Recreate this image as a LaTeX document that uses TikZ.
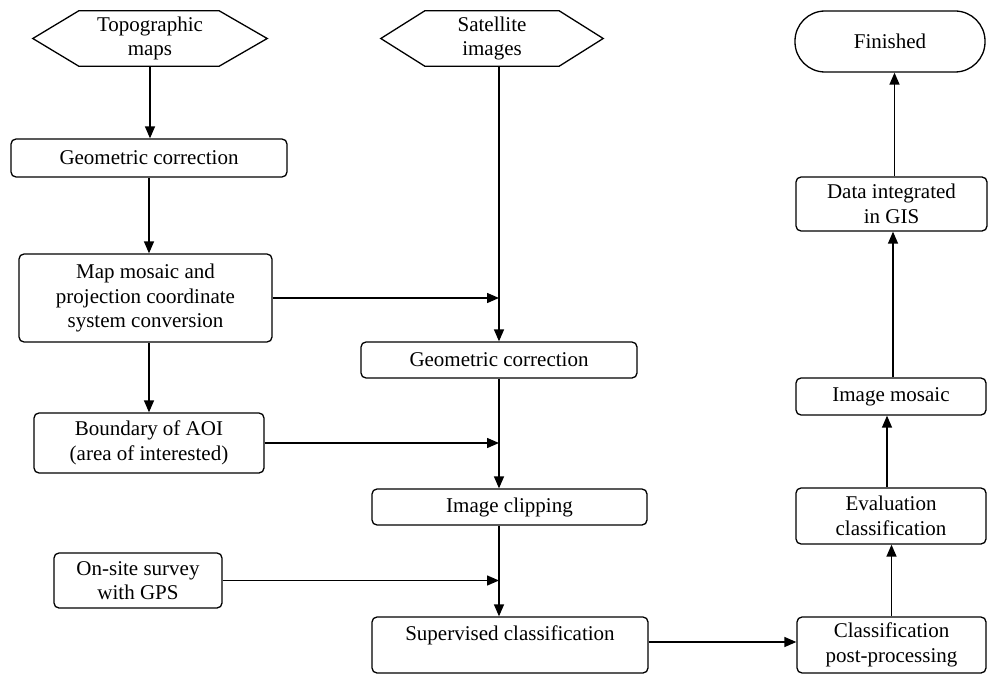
\documentclass[tikz,border=0pt]{standalone}
\usepackage{fontspec}
\setmainfont{Liberation Serif}
\usetikzlibrary{arrows.meta,calc}
\tikzset{
  box/.style={draw, line width=1.3pt, rounded corners=5pt, align=center, inner sep=0pt,
    font=\fontsize{21}{24.5}\selectfont},
  hexnode/.style={inner sep=0pt, align=center, font=\fontsize{21}{24.5}\selectfont},
  outline/.style={line width=1.3pt},
  arr/.style={line width=1.4pt, -{Triangle[length=12pt,width=10pt]}},
  ln/.style={line width=1.4pt}
}
\begin{document}
\begin{tikzpicture}[x=1pt,y=-1pt]
\useasboundingbox (0,0) rectangle (988,674);
% hexagons
\node[hexnode, minimum width=234pt, minimum height=55pt] (topo) at (150,38.5) {Topographic\\maps};
\draw[outline] (topo.west) -- ([xshift=46pt]topo.north west) -- ([xshift=-48pt]topo.north east)
  -- (topo.east) -- ([xshift=-48pt]topo.south east) -- ([xshift=46pt]topo.south west) -- cycle;
\node[hexnode, minimum width=222pt, minimum height=55pt] (sat) at (492,38.5) {Satellite\\images};
\draw[outline] (sat.west) -- ([xshift=44pt]sat.north west) -- ([xshift=-44pt]sat.north east)
  -- (sat.east) -- ([xshift=-44pt]sat.south east) -- ([xshift=44pt]sat.south west) -- cycle;
% terminal
\node[box, rounded corners=30pt, minimum width=190pt, minimum height=61pt] (fin) at (890,41.5) {Finished};
% left column
\node[box, minimum width=276pt, minimum height=38pt] (gc1) at (149,158) {Geometric correction};
\node[box, minimum width=253pt, minimum height=88pt] (mm) at (145.5,298) {Map mosaic and\\projection coordinate\\system conversion};
\node[box, minimum width=230pt, minimum height=60pt] (aoi) at (149,443) {Boundary of AOI\\(area of interested)};
\node[box, minimum width=168pt, minimum height=55pt] (gps) at (138,580.5) {On-site survey\\with GPS};
% middle column
\node[box, minimum width=276pt, minimum height=36pt] (gc2) at (499,360) {Geometric correction};
\node[box, minimum width=275pt, minimum height=36pt] (clip) at (509.5,507) {Image clipping};
\node[box, minimum width=276pt, minimum height=56pt] (sup) at (510,645) {Supervised classification\\\phantom{x}};
% right column
\node[box, minimum width=189pt, minimum height=56pt] (post) at (891.5,645) {Classification\\post-processing};
\node[box, minimum width=190pt, minimum height=56pt] (eval) at (891,516) {Evaluation\\classification};
\node[box, minimum width=190pt, minimum height=37pt] (mos) at (891,396.5) {Image mosaic};
\node[box, minimum width=191pt, minimum height=54pt] (gis) at (891.5,204) {Data integrated\\in GIS};
% connectors left
\draw[arr] (topo.south) -- (topo.south |- gc1.north);
\draw[arr] (gc1.south) -- (gc1.south |- mm.north);
\draw[arr] (gc1.south |- mm.south) -- (gc1.south |- aoi.north);
% middle vertical
\draw[arr] (sat.south -| gc2.north) -- (gc2.north);
\draw[arr] (gc2.south) -- (gc2.south |- clip.north);
\draw[arr] (gc2.south |- clip.south) -- (gc2.south |- sup.north);
% horizontal feeds
\draw[arr] (mm.east) -- (mm.east -| gc2.north);
\draw[arr] (aoi.east) -- (aoi.east -| gc2.south);
\draw[arr] (gps.east) -- (gps.east -| gc2.south);
\draw[arr] ([yshift=3pt]sup.east) -- ([yshift=3pt]post.west);
% right column upward
\draw[arr] (post.north) -- (post.north |- eval.south);
\draw[arr] ([xshift=-4pt]eval.north) -- ([xshift=-4pt]eval.north |- mos.south);
\draw[arr] ([xshift=2pt]mos.north) -- ([xshift=2pt]mos.north |- gis.south);
\draw[arr] ([xshift=3pt]gis.north) -- ([xshift=3pt]gis.north |- fin.south);
\end{tikzpicture}
\end{document}
